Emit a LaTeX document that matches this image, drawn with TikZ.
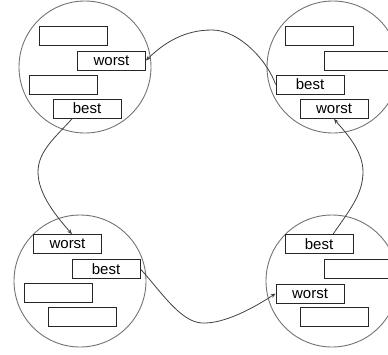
\documentclass[tikz,border=0pt]{standalone}
\usepackage{fontspec}
\setmainfont{Liberation Sans}
\usetikzlibrary{arrows.meta}
\begin{document}
\begin{tikzpicture}[x=1pt,y=-1pt,
  ring/.style={circle,draw=black!55,line width=0.9pt,minimum size=132pt,inner sep=0pt},
  slot/.style={rectangle,draw=black!85,line width=0.8pt,fill=white,minimum width=68pt,minimum height=19pt,inner sep=0pt,font=\fontsize{15}{15}\selectfont},
  link/.style={draw=black!75,line width=0.8pt,-{Stealth[length=5pt,width=4pt]}}]
\useasboundingbox (0,0) rectangle (388,354);
\clip (0,0) rectangle (388,354);
% circles
\node[ring] (tl) at (85,67) {};
\node[ring] (tr) at (333,67) {};
\node[ring] (bl) at (80,281) {};
\node[ring] (br) at (332,281) {};
% top-left boxes
\node[slot] (a1) at (73,36) {};
\node[slot] (a2) at (111.5,60.5) {worst};
\node[slot] (a3) at (63.5,84.5) {};
\node[slot] (a4) at (87,108.5) {best};
% top-right boxes
\node[slot] (b1) at (319.5,36) {};
\node[slot] (b2) at (358,60.5) {};
\node[slot] (b3) at (310,84.5) {best};
\node[slot] (b4) at (334,109) {worst};
% bottom-left boxes
\node[slot] (c1) at (67.5,244) {worst};
\node[slot] (c2) at (106,269) {best};
\node[slot] (c3) at (58,293) {};
\node[slot] (c4) at (82.5,317) {};
% bottom-right boxes
\node[slot] (d1) at (319,244) {best};
\node[slot] (d2) at (358,269) {};
\node[slot] (d3) at (310,293.5) {worst};
\node[slot] (d4) at (334,317) {};
% connectors
\coordinate (p1) at (212,30);
\coordinate (p2) at (38,172);
\coordinate (p3) at (202,323);
\coordinate (p4) at (363,172);
\draw[link] (b3.west) .. controls (268,62) and (240,30) .. (p1)
  .. controls (185,30) and (165,42) .. (a2.east);
\draw[link] (a4.214) .. controls (58,135) and (38,150) .. (p2)
  .. controls (38,195) and (58,218) .. (c1.66);
\draw[link] (c2.east) .. controls (160,290) and (180,322) .. (p3)
  .. controls (225,324) and (255,307) .. (d3.west);
\draw[link] (d1.35.5) .. controls (348,212) and (363,195) .. (p4)
  .. controls (363,150) and (345,132) .. (b4.south);
\end{tikzpicture}
\end{document}
